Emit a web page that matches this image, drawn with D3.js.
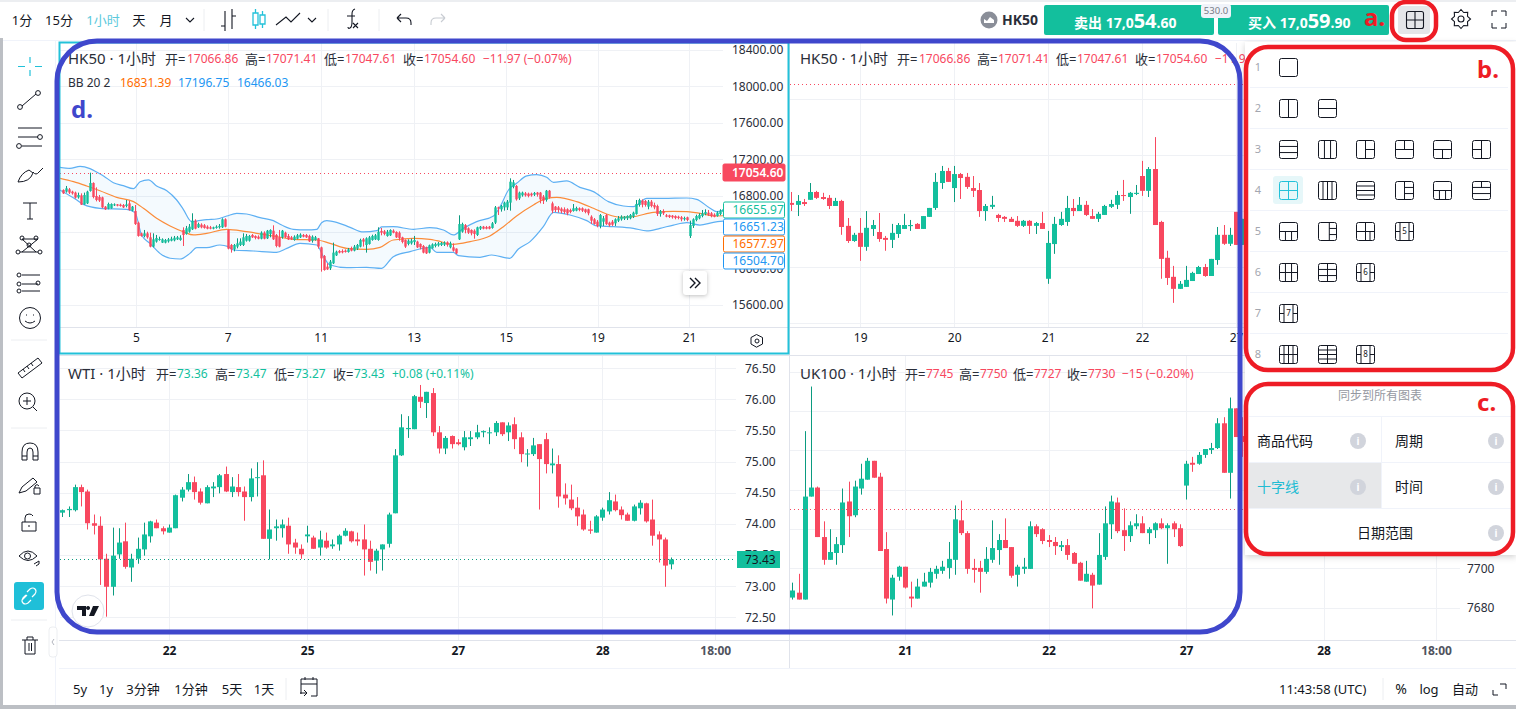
<!DOCTYPE html>
<html>
<head>
<meta charset="utf-8">
<script src="https://cdn.jsdelivr.net/npm/d3@7"></script>
<style>
  html, body { margin: 0; padding: 0; background: #fff; overflow: hidden; }
  text { font-family: "Noto Sans", "Noto Sans CJK SC", sans-serif; }
</style>
</head>
<body>
<div id="chart"></div>
<script>
// each candle is [open, high, low, close]
const hkHourly = [
[16863,16870,16819,16826],[16845,16907,16834,16881],[16870,16885,16819,16834],[16845,16855,16812,16826],[16834,16845,16768,16779],[16782,16834,16768,16808],[16804,16826,16698,16702],[16705,16834,16702,16808],[16716,16855,16709,16845],[16852,17053,16845,16940],
[16940,16947,16771,16786],[16797,16892,16738,16753],[16786,16808,16731,16746],[16782,16790,16662,16672],[16680,16687,16643,16651],[16658,16724,16651,16709],[16662,16716,16658,16709],[16694,16716,16687,16705],[16705,16709,16683,16691],[16702,16713,16680,16687],
[16698,16709,16665,16672],[16687,16753,16672,16705],[16716,16746,16636,16643],[16636,16687,16629,16680],[16632,16698,16479,16489],[16504,16515,16350,16358],[16387,16394,16350,16358],[16358,16424,16343,16387],[16387,16405,16328,16343],[16343,16394,16233,16241],
[16241,16387,16233,16321],[16296,16369,16285,16336],[16314,16350,16306,16325],[16285,16332,16281,16321],[16285,16325,16277,16314],[16299,16336,16285,16321],[16306,16350,16299,16328],[16310,16358,16299,16339],[16321,16358,16314,16343],[16314,16365,16306,16339],
[16424,16453,16248,16369],[16380,16468,16372,16442],[16405,16489,16394,16460],[16431,16607,16424,16526],[16526,16541,16431,16438],[16453,16504,16446,16489],[16482,16497,16442,16453],[16475,16489,16438,16446],[16460,16475,16431,16438],[16453,16468,16431,16438],
[16438,16460,16431,16453],[16446,16475,16438,16460],[16453,16489,16438,16468],[16453,16552,16446,16541],[16541,16552,16453,16460],[16424,16431,16211,16219],[16259,16270,16175,16211],[16211,16270,16189,16259],[16241,16332,16222,16277],[16259,16332,16248,16296],
[16259,16387,16248,16343],[16306,16380,16296,16358],[16306,16369,16296,16358],[16369,16380,16336,16343],[16358,16365,16321,16336],[16350,16365,16321,16328],[16328,16409,16321,16394],[16394,16409,16321,16328],[16332,16424,16325,16416],[16380,16431,16343,16424],
[16416,16475,16314,16321],[16369,16380,16233,16248],[16343,16424,16233,16241],[16343,16424,16328,16416],[16394,16405,16336,16343],[16358,16380,16314,16321],[16343,16358,16314,16321],[16314,16365,16306,16350],[16328,16380,16321,16365],[16343,16387,16336,16372],
[16369,16380,16343,16350],[16369,16380,16336,16343],[16358,16372,16292,16299],[16306,16365,16285,16350],[16314,16358,16306,16343],[16332,16336,16219,16241],[16233,16241,15966,16112],[16138,16149,15977,15984],[16021,16058,15984,15992],[16003,16094,15984,16076],
[16058,16285,16050,16175],[16145,16197,16138,16186],[16193,16204,16167,16175],[16193,16211,16167,16178],[16197,16211,16175,16182],[16182,16226,16175,16211],[16222,16241,16189,16197],[16197,16259,16189,16241],[16219,16270,16204,16259],[16241,16328,16233,16314],
[16321,16336,16241,16296],[16259,16343,16175,16332],[16270,16358,16263,16343],[16314,16372,16306,16358],[16321,16380,16314,16365],[16314,16453,16306,16405],[16413,16446,16365,16394],[16409,16424,16365,16380],[16358,16424,16350,16405],[16365,16431,16358,16424],
[16416,16431,16387,16394],[16402,16409,16336,16343],[16394,16409,16306,16336],[16343,16350,16277,16292],[16314,16321,16226,16241],[16270,16321,16255,16306],[16277,16328,16263,16306],[16292,16358,16259,16314],[16296,16306,16226,16233],[16270,16277,16211,16233],
[16248,16259,16167,16175],[16233,16241,16160,16167],[16175,16263,16167,16255],[16222,16277,16219,16266],[16248,16285,16233,16270],[16255,16292,16241,16277],[16259,16292,16248,16281],[16263,16299,16248,16285],[16288,16299,16241,16259],[16233,16296,16222,16277],
[16233,16277,16186,16197],[16219,16222,16160,16167],[16321,16585,16314,16489],[16405,16504,16394,16489],[16478,16489,16387,16424],[16442,16453,16380,16394],[16424,16431,16365,16387],[16416,16431,16328,16380],[16369,16460,16358,16453],[16438,16468,16424,16460],
[16460,16468,16431,16438],[16456,16468,16431,16438],[16460,16468,16431,16438],[16446,16511,16438,16497],[16504,16687,16489,16672],[16672,16680,16588,16658],[16651,16698,16625,16687],[16672,16735,16636,16724],[16672,16753,16643,16735],[16724,16991,16636,16954],
[16899,16973,16881,16947],[16907,16918,16746,16760],[16771,16845,16753,16834],[16804,16845,16790,16834],[16826,16841,16790,16804],[16823,16834,16782,16797],[16823,16834,16790,16804],[16812,16841,16797,16830],[16834,16841,16790,16812],[16834,16841,16716,16760],
[16790,16808,16709,16746],[16753,16863,16735,16855],[16855,16863,16768,16782],[16716,16735,16607,16636],[16680,16687,16621,16643],[16672,16687,16614,16643],[16658,16672,16607,16629],[16651,16672,16599,16621],[16651,16662,16585,16607],[16643,16658,16607,16621],
[16632,16709,16625,16662],[16636,16680,16629,16665],[16662,16672,16629,16643],[16662,16672,16621,16636],[16651,16658,16607,16621],[16651,16658,16585,16607],[16570,16585,16489,16526],[16541,16555,16482,16489],[16515,16533,16453,16468],[16468,16599,16442,16588],
[16515,16577,16468,16552],[16588,16599,16479,16489],[16504,16515,16460,16475],[16515,16533,16468,16482],[16497,16552,16468,16541],[16526,16577,16511,16552],[16541,16585,16526,16570],[16548,16577,16533,16570],[16552,16585,16533,16577],[16552,16599,16541,16588],
[16570,16625,16555,16614],[16599,16753,16592,16709],[16698,16768,16680,16753],[16746,16760,16672,16702],[16742,16753,16680,16698],[16680,16753,16651,16735],[16735,16753,16672,16687],[16698,16724,16651,16672],[16687,16702,16577,16599],[16599,16643,16570,16629],
[16629,16651,16588,16607],[16585,16599,16563,16570],[16585,16592,16555,16566],[16581,16588,16548,16563],[16577,16585,16541,16555],[16570,16581,16541,16555],[16563,16577,16519,16541],[16541,16570,16526,16555],[16563,16570,16519,16533],[16358,16526,16336,16478],
[16468,16552,16446,16541],[16533,16592,16519,16577],[16552,16607,16541,16588],[16577,16643,16563,16607],[16599,16651,16585,16621],[16614,16643,16577,16592],[16607,16621,16563,16577],[16592,16607,16563,16570],[16577,16629,16570,16614],[16599,16651,16585,16636],
[16621,16665,16607,16651]
];

// bollinger bands as [candle index, value]
const bbUpper = [[-1,17112],[2.4,17101],[5.8,17123],[9.1,17097],[11.3,17060],[13.6,17017],[16.9,16943],[20.2,16910],[23.6,16877],[25.8,16954],[28.6,16973],[31.3,16907],[34.7,16855],[38,16753],[40.2,16651],[43,16515],[44.7,16522],[48,16537],[51.3,16544],[54.7,16577],[58,16607],[61.3,16599],[65.8,16559],[70.2,16526],[73,16478],[76.9,16431],[81.3,16424],[84.7,16431],[86.3,16504],[88,16526],[91.3,16508],[95.8,16453],[100.2,16402],[104.7,16416],[106.3,16457],[110.2,16460],[116.9,16431],[122.4,16449],[126.9,16424],[130.2,16369],[133.6,16442],[138,16515],[143.6,16577],[145.8,16680],[148.6,16863],[151.3,16936],[154.7,17017],[158,17031],[161.3,17002],[163.6,16947],[168,16962],[172.4,16892],[176.9,16845],[181.9,16735],[186.9,16687],[190.2,16680],[194.7,16771],[200.2,16771],[208,16775],[211.3,16760],[215.8,16662],[218,16625],[220.8,16651]];
const bbMiddle = [[-1,16991],[3.6,16954],[8,16907],[12.4,16855],[18,16782],[23.6,16735],[26.9,16662],[31.3,16552],[35.8,16468],[40.2,16405],[43.6,16369],[48,16387],[54.7,16431],[61.3,16405],[70.2,16358],[76.9,16321],[84.7,16314],[89.1,16277],[94.7,16222],[101.3,16211],[105.8,16233],[110.2,16314],[116.9,16332],[122.4,16321],[124.7,16306],[130.2,16266],[135.8,16296],[142.4,16358],[146.9,16460],[151.3,16577],[156.9,16698],[161.3,16771],[164.7,16782],[171.3,16735],[176.9,16662],[181.3,16599],[185.8,16563],[190.2,16570],[196.9,16618],[203.6,16629],[208,16625],[213.6,16599],[216.9,16577],[220.8,16581]];
const bbLower = [[-1,16863],[4.7,16753],[6.9,16705],[12.4,16662],[21.3,16651],[24.1,16614],[26.3,16369],[29.1,16277],[32.4,16167],[35.8,16113],[39.1,16105],[42.4,16167],[44.7,16230],[48,16230],[52.4,16259],[55.2,16241],[56.9,16204],[63.6,16193],[71.3,16178],[74.7,16222],[79.1,16277],[84.7,16259],[86.9,16131],[89.1,16039],[94.7,16010],[101.3,16014],[106.3,16003],[110.2,16131],[115.8,16186],[122.4,16233],[124.7,16178],[130.2,16178],[131.9,16142],[139.1,16124],[143,16149],[149,16113],[151.9,16215],[155.8,16296],[160.2,16460],[163.6,16618],[169.1,16588],[174.7,16526],[178,16468],[183.6,16460],[190.2,16442],[194.7,16413],[199.1,16442],[203.6,16478],[208,16504],[212.4,16478],[216.9,16508],[220.8,16522]];

const hkZoomed = [
[16630,16669,16601,16623],[16623,16658,16583,16637],[16633,16644,16619,16626],[16641,16701,16641,16669],[16669,16673,16644,16648],[16651,16666,16641,16644],[16648,16658,16608,16619],[16619,16648,16619,16637],[16637,16641,16516,16544],[16548,16576,16487,16494],
[16494,16523,16491,16516],[16523,16576,16423,16473],[16473,16601,16459,16541],[16537,16569,16512,16551],[16526,16594,16491,16501],[16505,16512,16459,16498],[16498,16555,16469,16523],[16519,16558,16505,16551],[16537,16591,16537,16551],[16547,16569,16530,16551],
[16555,16558,16537,16537],[16537,16583,16537,16583],[16580,16612,16580,16612],[16612,16737,16605,16705],[16701,16762,16680,16744],[16744,16755,16705,16705],[16683,16762,16633,16733],[16733,16737,16644,16719],[16723,16737,16680,16687],[16683,16726,16651,16673],
[16676,16701,16580,16601],[16601,16626,16566,16619],[16616,16655,16608,16623],[16587,16591,16562,16576],[16580,16583,16562,16573],[16573,16580,16562,16562],[16566,16583,16544,16548],[16548,16569,16544,16566],[16566,16569,16519,16548],[16548,16562,16519,16558],
[16558,16598,16537,16537],[16359,16530,16341,16487],[16483,16580,16448,16555],[16551,16598,16548,16573],[16562,16655,16548,16612],[16612,16644,16583,16601],[16601,16651,16601,16623],[16623,16637,16583,16587],[16583,16608,16573,16573],[16573,16598,16562,16591],
[16587,16623,16587,16619],[16616,16641,16612,16626],[16623,16673,16608,16658],[16658,16712,16637,16655],[16651,16669,16591,16666],[16662,16694,16658,16666],[16726,16780,16655,16673],[16673,16758,16651,16751],[16751,16865,16551,16551],[16562,16566,16359,16430],
[16434,16459,16337,16362],[16366,16405,16273,16323],[16323,16351,16323,16341],[16330,16405,16330,16355],[16351,16384,16351,16380],[16376,16405,16376,16401],[16401,16412,16366,16369],[16369,16430,16369,16430],[16426,16544,16409,16516],[16516,16551,16480,16484],
[16484,16541,16476,16516],[16598,16598,16480,16480],[16480,16573,16480,16573]
];

const wtiHourly = [
[74.18,74.23,74.11,74.22],[74.22,74.28,74.11,74.24],[74.22,74.63,74.20,74.59],[74.59,74.63,74.28,74.51],[74.52,74.55,73.91,74.01],[74.01,74.15,73.83,73.97],[73.97,74.12,73.02,73.43],[73.44,73.52,72.51,72.99],[72.99,73.94,72.85,73.49],[73.51,73.93,73.44,73.70],
[73.72,74.02,73.28,73.31],[73.30,73.52,73.07,73.44],[73.44,73.78,73.36,73.60],[73.59,74.02,73.49,73.83],[73.80,74.05,73.70,74.04],[74.02,74.07,73.93,73.93],[73.93,73.96,73.83,73.88],[73.86,73.99,73.86,73.94],[73.93,74.47,73.93,74.46],[74.42,74.59,74.36,74.55],
[74.55,74.80,74.52,74.67],[74.67,74.76,74.39,74.51],[74.52,74.57,74.31,74.34],[74.33,74.62,74.33,74.59],[74.57,74.67,74.43,74.60],[74.59,74.80,74.49,74.78],[74.80,74.92,74.51,74.52],[74.51,74.75,74.43,74.60],[74.59,74.80,74.44,74.51],[74.52,74.60,74.05,74.43],
[74.43,74.89,74.36,74.73],[74.74,74.99,74.44,74.75],[74.78,75.02,73.76,73.76],[73.76,74.23,73.43,73.91],[73.93,74.07,73.73,73.96],[73.93,74.07,73.78,73.99],[73.97,74.10,73.52,73.67],[73.70,73.76,73.52,73.62],[73.60,73.67,73.44,73.51],[73.80,73.97,73.70,73.83],
[73.78,73.81,73.60,73.60],[73.62,73.89,73.49,73.75],[73.73,73.86,73.60,73.62],[73.64,73.75,73.60,73.67],[73.67,73.83,73.57,73.81],[73.81,73.93,73.80,73.89],[73.88,73.89,73.70,73.72],[73.75,73.86,73.65,73.72],[73.75,73.99,73.17,73.59],[73.60,73.73,73.25,73.39],
[73.41,73.60,73.20,73.57],[73.59,73.67,73.25,73.67],[73.68,74.18,73.62,74.15],[74.17,75.20,74.17,75.10],[75.10,75.76,75.09,75.55],[75.52,75.73,75.38,75.54],[75.52,76.07,75.52,76.05],[76.04,76.23,75.86,75.96],[75.94,76.12,75.70,76.12],[76.10,76.18,75.41,75.47],
[75.47,75.57,75.13,75.21],[75.21,75.41,75.12,75.38],[75.41,75.42,75.21,75.28],[75.31,75.36,75.26,75.28],[75.23,75.49,75.18,75.39],[75.36,75.49,75.25,75.39],[75.39,75.59,75.36,75.47],[75.47,75.50,75.39,75.49],[75.46,75.55,75.28,75.47],[75.47,75.65,75.41,75.62],
[75.63,75.63,75.41,75.44],[75.47,75.63,75.33,75.58],[75.60,75.71,75.20,75.36],[75.39,75.47,74.99,75.12],[75.12,75.20,74.92,75.13],[75.12,75.38,75.09,75.26],[75.28,75.28,74.23,75.04],[75.36,75.46,74.81,74.96],[74.94,75.21,74.81,74.97],[74.96,75.10,74.26,74.44],
[74.47,74.65,74.31,74.41],[74.39,74.63,74.22,74.25],[74.26,74.43,73.97,74.12],[74.15,74.23,73.89,73.91],[73.91,74.05,73.84,73.89],[73.86,74.14,73.86,74.12],[74.10,74.26,74.05,74.23],[74.20,74.51,74.15,74.38],[74.36,74.47,74.20,74.22],[74.23,74.28,74.07,74.14],
[74.15,74.18,74.05,74.05],[74.05,74.31,74.04,74.28],[74.25,74.38,74.15,74.34],[74.33,74.34,74.02,74.04],[74.07,74.39,73.65,73.81],[73.83,73.88,73.38,73.75],[73.75,73.78,72.99,73.33],[73.35,73.46,73.27,73.43]
];

const ukHourly = [
[7685.1,7692.7,7684.1,7688.7],[7687.6,7697.2,7684.1,7684.1],[7684.1,7769.8,7684.1,7736.5],[7736.5,7792.5,7736.5,7741.1],[7741.1,7741.6,7715.9,7715.9],[7715.9,7723.9,7701.8,7704.3],[7704.3,7719.9,7704.3,7708.3],[7707.8,7715.9,7701.8,7712.3],[7711.8,7740.6,7707.8,7733.5],[7734,7744.1,7715.9,7726.5],
[7727,7744.6,7726,7741.6],[7740.6,7753.2,7737.5,7745.6],[7745.1,7756.2,7745.1,7754.7],[7754.7,7754.7,7746.1,7746.1],[7746.6,7748.6,7708.8,7708.8],[7709.8,7718.4,7682.1,7684.6],[7684.1,7696.7,7676,7695.2],[7695.7,7701.3,7693.7,7700.8],[7700.8,7700.8,7689.7,7690.2],[7685.6,7693.2,7680.1,7684.6],
[7684.6,7694.7,7684.6,7690.7],[7690.7,7697.7,7690.7,7693.2],[7692.7,7700.2,7690.2,7698.2],[7697.2,7701.3,7694.7,7699.7],[7698.7,7703.8,7697.2,7700.8],[7700.2,7713.4,7694.7,7704.8],[7704.3,7732,7696.7,7724.9],[7724.4,7734.5,7716.9,7717.9],[7717.9,7718.9,7697.2,7699.7],[7700.2,7704.8,7692.7,7699.2],
[7700.2,7703.8,7687.6,7698.2],[7698.2,7710.8,7697.2,7704.8],[7704.3,7724.4,7702.8,7710.3],[7709.3,7717.4,7701.8,7714.4],[7714.4,7725.4,7710.3,7710.3],[7710.8,7710.8,7695.2,7696.2],[7696.7,7701.8,7690.7,7700.8],[7699.7,7705.3,7697.2,7700.8],[7699.7,7723.9,7699.7,7721.4],[7721.4,7722.4,7715.9,7717.4],
[7719.9,7720.4,7712.3,7713.9],[7714.4,7716.9,7710.8,7713.4],[7713.4,7715.9,7706.8,7711.3],[7710.8,7713.9,7708.8,7711.8],[7711.8,7714.9,7704.3,7706.8],[7707.8,7708.3,7702.3,7702.3],[7702.8,7703.3,7693.7,7693.7],[7693.2,7703.8,7693.2,7697.2],[7696.7,7697.7,7679.6,7691.2],[7691.7,7717.9,7691.7,7706.8],
[7705.8,7731.5,7704.3,7722.9],[7722.4,7737,7714.9,7734],[7733.5,7736,7717.9,7718.9],[7719.4,7730.5,7708.8,7716.4],[7716.4,7723.9,7713.4,7721.9],[7721.4,7727.5,7719.9,7722.9],[7722.9,7726.5,7717.9,7717.9],[7717.9,7720.9,7712.3,7719.9],[7719.4,7723.4,7715.4,7722.9],[7722.9,7725.4,7719.9,7720.4],
[7720.4,7722.9,7702.3,7721.9],[7722.9,7723.9,7715.9,7719.9],[7720.4,7722.4,7710.8,7711.3],[7742.1,7754.7,7735,7753.2],[7753.7,7756.7,7749.1,7752.7],[7753.2,7759.2,7752.7,7757.7],[7757.7,7760.7,7756.2,7760.7],[7760.2,7763.8,7758.2,7761.2],[7761.2,7776.4,7760.7,7773.8],[7773.8,7776.9,7748.6,7748.6],
[7748.6,7786.9,7735.5,7781.4],[7781.4,7781.4,7766.8,7766.8],[7767.3,7776.9,7756.7,7764.3]
];

const hkPriceTicks = [18400,18000,17600,17200,16800,16400,16000,15600];
const hkPriceLabels = [18400,18000,17600,17200,16800,16000,15600];
const hkDayTicks = [24.4,55,86,117,147.7,178.3,208.8];
const hkDayLabels = ["5","7","11","13","15","19","21"];
const hkZoomPriceTicks = [17000,16800,16600,16400,16200];
const hkZoomDayTicks = [11,26,41,56,71];
const hkZoomDayLabels = ["19","20","21","22","27"];
const wtiPriceTicks = [76.5,76,75.5,75,74.5,74,73.5,73,72.5];
const wtiDayTicks = [17,39,63,86,104];
const wtiDayLabels = ["22","25","27","28","18:00"];
const ukPriceTicks = [7800,7780,7760,7740,7720,7700,7680];
const ukPriceLabels = [7700,7680];
const ukDayTicks = [18,41,63,85,103];
const ukDayLabels = ["21","22","27","28","18:00"];

const UP = "#13bf9d", UP_WICK = "#0b9b80", DOWN = "#f8485f";
const INK = "#131722", GRID = "#eff1f5", CYAN = "#22c1d9", RED = "#ee1c25", BLUE = "#3f47cc";

const svg = d3.select("#chart").append("svg").attr("width", 1516).attr("height", 709).style("display", "block");
const defs = svg.append("defs");
svg.append("rect").attr("width", 1516).attr("height", 709).attr("fill", "#fff");

function txt(parent, s, x, y, size, fill, opts) {
  opts = opts || {};
  return parent.append("text").attr("x", x).attr("y", y).attr("dy", "0.35em")
    .attr("font-size", size).attr("fill", fill)
    .attr("text-anchor", opts.anchor || "start")
    .attr("font-weight", opts.weight || 400).text(s);
}

function drawPane(p) {
  const id = "clip" + p.name;
  defs.append("clipPath").attr("id", id).append("rect")
    .attr("x", p.left).attr("y", p.top).attr("width", p.right - p.left).attr("height", p.bottom - p.top);
  const g = svg.append("g");
  const x = d3.scaleLinear().domain(p.xDomain).range(p.xRange);
  const y = d3.scaleLinear().domain(p.yDomain).range(p.yRange);

  g.selectAll(".hg").data(p.priceTicks).enter().append("line")
    .attr("x1", p.left).attr("x2", p.gridRight).attr("y1", d => Math.round(y(d)) + 0.5).attr("y2", d => Math.round(y(d)) + 0.5)
    .attr("stroke", GRID);
  g.selectAll(".vg").data(p.dayTicks).enter().append("line")
    .attr("x1", d => Math.round(x(d)) + 0.5).attr("x2", d => Math.round(x(d)) + 0.5).attr("y1", p.top).attr("y2", p.bottom)
    .attr("stroke", GRID);

  const body = g.append("g").attr("clip-path", "url(#" + id + ")");
  if (p.bands) p.bands(body, x, y);

  const c = body.selectAll(".c").data(p.candles).enter().append("g");
  c.append("line")
    .attr("x1", (d, i) => Math.round(x(i)) + 0.5).attr("x2", (d, i) => Math.round(x(i)) + 0.5)
    .attr("y1", d => y(d[1])).attr("y2", d => y(d[2]))
    .attr("stroke", d => d[3] >= d[0] ? UP_WICK : DOWN);
  c.append("rect")
    .attr("x", (d, i) => Math.round(x(i)) + 0.5 - p.barW / 2).attr("width", p.barW)
    .attr("y", d => y(Math.max(d[0], d[3])))
    .attr("height", d => Math.max(1, Math.abs(y(d[0]) - y(d[3]))))
    .attr("fill", d => d[3] >= d[0] ? UP : DOWN);

  g.append("line").attr("x1", p.left).attr("x2", p.lastRight)
    .attr("y1", Math.round(y(p.last)) + 0.5).attr("y2", Math.round(y(p.last)) + 0.5)
    .attr("stroke", p.lastColor).attr("stroke-dasharray", "1 3");

  if (p.priceX) {
    const ax = g.append("g").attr("transform", "translate(" + p.priceX + ",0)")
      .call(d3.axisRight(y).tickValues(p.priceLabels || p.priceTicks).tickFormat(p.priceFmt).tickSize(0).tickPadding(0));
    ax.select(".domain").remove();
    ax.selectAll("text").attr("font-size", 12).attr("fill", "#2a2e39").attr("font-family", null);
  }
  const ax2 = g.append("g").attr("transform", "translate(0," + p.axisY + ")")
    .call(d3.axisBottom(x).tickValues(p.dayTicks).tickFormat((d, i) => p.dayLabels[i]).tickSize(0).tickPadding(6));
  ax2.select(".domain").remove();
  ax2.selectAll("text").attr("font-size", 12).attr("font-family", null).attr("font-weight", p.boldDays ? 700 : 400)
    .attr("fill", d => (p.dayLabels[p.dayTicks.indexOf(d)] === "18:00" ? "#50535e" : "#131722"));
  return { g, x, y };
}

// ---- panes
drawPane({
  name: "hk", left: 60, right: 723, top: 43, bottom: 327, gridRight: 723, lastRight: 723, axisY: 327,
  xDomain: [0, 220], xRange: [62.7, 722.7], yDomain: [18400, 15600], yRange: [50, 305],
  candles: hkHourly, barW: 2.4, priceTicks: hkPriceTicks, priceLabels: hkPriceLabels, priceFmt: d3.format(".2f"), priceX: 732,
  dayTicks: hkDayTicks, dayLabels: hkDayLabels, last: 17054.6, lastColor: DOWN,
  bands: (b, x, y) => {
    const line = d3.line().x(d => x(d[0])).y(d => y(d[1])).curve(d3.curveMonotoneX);
    b.append("path").attr("d", line(bbUpper) + "L" + line(bbLower.slice().reverse()).slice(1) + "Z").attr("fill", "#2196f3").attr("opacity", 0.05);
    b.append("path").attr("d", line(bbUpper)).attr("fill", "none").attr("stroke", "#5eb0f3").attr("stroke-width", 1.2);
    b.append("path").attr("d", line(bbLower)).attr("fill", "none").attr("stroke", "#5eb0f3").attr("stroke-width", 1.2);
    b.append("path").attr("d", line(bbMiddle)).attr("fill", "none").attr("stroke", "#fb8c3a").attr("stroke-width", 1.2);
  }
});
drawPane({
  name: "hkz", left: 790, right: 1516, top: 43, bottom: 327, gridRight: 1516, lastRight: 1516, axisY: 327,
  xDomain: [0, 72], xRange: [791.3, 1242.3], yDomain: [17000, 16200], yRange: [99.3, 323.3],
  candles: hkZoomed, barW: 5, priceTicks: hkZoomPriceTicks, dayTicks: hkZoomDayTicks, dayLabels: hkZoomDayLabels,
  last: 17054.6, lastColor: DOWN
});
drawPane({
  name: "wti", left: 60, right: 736, top: 356, bottom: 640, gridRight: 736, lastRight: 736, axisY: 640, boldDays: true,
  xDomain: [0, 97], xRange: [62.3, 671.3], yDomain: [76, 72.5], yRange: [399.3, 617.3],
  candles: wtiHourly, barW: 5, priceTicks: wtiPriceTicks, priceFmt: d3.format(".2f"), priceX: 745,
  dayTicks: wtiDayTicks, dayLabels: wtiDayLabels, last: 73.43, lastColor: UP_WICK
});
drawPane({
  name: "uk", left: 790, right: 1460, top: 356, bottom: 640, gridRight: 1460, lastRight: 1460, axisY: 640, boldDays: true,
  xDomain: [0, 72], xRange: [792.3, 1242.3], yDomain: [7700, 7680], yRange: [568.3, 607.6],
  candles: ukHourly, barW: 5, priceTicks: ukPriceTicks, priceLabels: ukPriceLabels, priceFmt: d3.format("d"), priceX: 1467,
  dayTicks: ukDayTicks, dayLabels: ukDayLabels, last: 7730, lastColor: DOWN
});

// pane separators and frame lines
const frame = svg.append("g").attr("stroke", "#e0e3eb").attr("fill", "none");
frame.append("line").attr("x1", 59).attr("x2", 1516).attr("y1", 640.5).attr("y2", 640.5);
frame.append("line").attr("x1", 59).attr("x2", 1516).attr("y1", 327.5).attr("y2", 327.5);
frame.append("line").attr("x1", 59).attr("x2", 1516).attr("y1", 355.5).attr("y2", 355.5);
frame.append("line").attr("x1", 789.5).attr("x2", 789.5).attr("y1", 42).attr("y2", 668);
frame.append("line").attr("x1", 59).attr("x2", 1516).attr("y1", 668.5).attr("y2", 668.5).attr("stroke", "#f0f3fa");
frame.append("line").attr("x1", 0).attr("x2", 1516).attr("y1", 40.5).attr("y2", 40.5).attr("stroke", "#f0f3fa");
frame.append("line").attr("x1", 55.5).attr("x2", 55.5).attr("y1", 41).attr("y2", 705).attr("stroke", "#f0f3fa");

// selected pane outline
svg.append("rect").attr("x", 59.5).attr("y", 42.5).attr("width", 729).attr("height", 311)
  .attr("fill", "none").attr("stroke", CYAN).attr("stroke-width", 2);

// window edge
svg.append("rect").attr("x", 0).attr("y", 38).attr("width", 3).attr("height", 671).attr("fill", "#bcbfc4");
svg.append("rect").attr("x", 0).attr("y", 705).attr("width", 1516).attr("height", 4).attr("fill", "#bcbfc4");
svg.append("rect").attr("x", 0).attr("y", 0).attr("width", 1516).attr("height", 2).attr("fill", "#eceef1");

// ---- pane legends
function legend(items, y) {
  items.forEach(t => txt(svg, t[0], t[1], y, t[3] || 12, t[2]));
}
const hkRed = DOWN, dark = "#2a2e39";
legend([["HK50 · 1小时", 68, dark, 15], ["开=", 165, dark, 13], ["17066.86", 187, hkRed], ["高=", 245, dark, 13], ["17071.41", 266, hkRed],
  ["低=", 324, dark, 13], ["17047.61", 345, hkRed], ["收=", 403, dark, 13], ["17054.60", 424, hkRed], ["−11.97 (−0.07%)", 483, hkRed]], 59);
legend([["HK50 · 1小时", 800, dark, 15], ["开=", 897, dark, 13], ["17066.86", 919, hkRed], ["高=", 977, dark, 13], ["17071.41", 998, hkRed],
  ["低=", 1056, dark, 13], ["17047.61", 1077, hkRed], ["收=", 1135, dark, 13], ["17054.60", 1156, hkRed], ["−11.97 (−0.07%)", 1215, hkRed]], 59);
legend([["BB 20 2", 68, dark], ["16831.39", 120, "#ff6d00"], ["17196.75", 178, "#2196f3"], ["16466.03", 237, "#2196f3"]], 83);
legend([["WTI · 1小时", 68, dark, 15], ["开=", 156, dark, 13], ["73.36", 177, UP], ["高=", 215, dark, 13], ["73.47", 236, UP], ["低=", 274, dark, 13], ["73.27", 295, UP],
  ["收=", 333, dark, 13], ["73.43", 354, UP], ["+0.08 (+0.11%)", 392, UP]], 374);
legend([["UK100 · 1小时", 800, dark, 15], ["开=", 905, dark, 13], ["7745", 926, hkRed], ["高=", 959, dark, 13], ["7750", 980, hkRed], ["低=", 1013, dark, 13], ["7727", 1034, hkRed],
  ["收=", 1067, dark, 13], ["7730", 1088, hkRed], ["−15 (−0.20%)", 1122, hkRed]], 374);

// ---- price labels
function priceBox(s, x, y, w, h, fill, stroke, color) {
  svg.append("rect").attr("x", x).attr("y", y).attr("width", w).attr("height", h).attr("rx", 1.5)
    .attr("fill", fill).attr("stroke", stroke);
  txt(svg, s, x + 9, y + h / 2, 12, color, { weight: fill === "#fff" ? 400 : 600 });
}
priceBox("17054.60", 723, 164, 62, 17, DOWN, DOWN, "#fff");
priceBox("16655.97", 723.5, 202, 61, 16, "#fff", UP, UP);
priceBox("16651.23", 723.5, 219, 61, 16, "#fff", "#2196f3", "#2196f3");
priceBox("16577.97", 723.5, 236, 61, 16, "#fff", "#ff6d00", "#ff6d00");
priceBox("16504.70", 723.5, 253, 61, 16, "#fff", "#2196f3", "#2196f3");
svg.append("rect").attr("x", 737).attr("y", 551).attr("width", 43).attr("height", 17).attr("fill", UP);
txt(svg, "73.43", 745, 559.5, 12, "#131722");

// scroll-to-latest button
svg.append("rect").attr("x", 683).attr("y", 271).attr("width", 24).attr("height", 24).attr("rx", 3).attr("fill", "#fff")
  .style("filter", "drop-shadow(0 1px 2px rgba(0,0,0,.25))");
svg.append("path").attr("d", "M690 278l5 5l-5 5M695 278l5 5l-5 5").attr("fill", "none").attr("stroke", INK).attr("stroke-width", 1.4);

// pane settings hexagon
svg.append("path").attr("d", "M751 335.5l5.5 -3l6 3v6.5l-6 3.2l-5.5 -3.2z").attr("transform", "translate(0,2)")
  .attr("fill", "none").attr("stroke", INK);
svg.append("circle").attr("cx", 757).attr("cy", 341).attr("r", 2).attr("fill", "none").attr("stroke", INK);

// tradingview badge
svg.append("circle").attr("cx", 88).attr("cy", 611).attr("r", 16).attr("fill", "#fff").attr("stroke", "#e0e3eb");
svg.append("path").attr("d", "M77 606h9v10h-4v-6h-5zM88 606a2 2 0 1 0 0.1 0zM93 606h6l-5 10h-5z").attr("fill", "#131722");

// ---- top toolbar
const tf = [["1分", 22, INK], ["15分", 59, INK], ["1小时", 103, "#5cc9dc"], ["天", 139, INK], ["月", 166, INK]];
tf.forEach(t => txt(svg, t[0], t[1], 20, 13, t[2], { anchor: "middle" }));
const tool = svg.append("g").attr("fill", "none").attr("stroke", INK).attr("stroke-width", 1.1);
const chevron = x => `M${x - 4} 18l4 4l4 -4`;
tool.append("path").attr("d", chevron(190) + chevron(312));
tool.append("path").attr("d", "M225 11v20M221 26h4M232 9v20M232 16h4");
svg.append("path").attr("d", "M253 13h5v12h-5zM255.5 9v4M255.5 25v4M260 15h5v9h-5zM262.5 11v4M262.5 24v4")
  .attr("fill", "none").attr("stroke", CYAN).attr("stroke-width", 1.3);
tool.append("path").attr("d", "M276 25l10 -8l5 5l9 -9");
tool.append("path").attr("d", "M348 27q0 2 2 1q2 -1 2 -6v-8q0 -4 3 -5M347 16h8M353 23l5 5M358 23l-5 5");
tool.append("path").attr("d", "M397 18h9q5 0 5 5v2M397 18l4 -4M397 18l4 4");
tool.append("path").attr("d", "M445 18h-9q-5 0 -5 5v2M445 18l-4 -4M445 18l-4 4").attr("stroke", "#c8ccd2");
[204, 328, 379].forEach(x => svg.append("line").attr("x1", x).attr("x2", x).attr("y1", 9).attr("y2", 31).attr("stroke", "#eceef1"));

// ---- symbol and quote buttons
svg.append("circle").attr("cx", 989).attr("cy", 20).attr("r", 8.5).attr("fill", "#8a8e98");
svg.append("path").attr("d", "M984 23v-4l3 2l3 -4l4 3v3z").attr("fill", "#fff");
txt(svg, "HK50", 1002, 20, 14, "#2a2e39", { weight: 700 });
svg.append("rect").attr("x", 1044).attr("y", 5).attr("width", 170).attr("height", 30).attr("rx", 2).attr("fill", UP);
svg.append("rect").attr("x", 1218).attr("y", 5).attr("width", 171).attr("height", 30).attr("rx", 2).attr("fill", UP);
svg.append("rect").attr("x", 1201).attr("y", 4).attr("width", 30).attr("height", 14).attr("rx", 3).attr("fill", "#f0f3fa");
txt(svg, "530.0", 1216, 11, 9.5, "#787b86", { anchor: "middle" });
function quote(label, x, head, big, tail) {
  const t = svg.append("text").attr("x", x).attr("y", 28).attr("fill", "#fff").attr("font-weight", 700);
  t.append("tspan").attr("font-size", 14).text(label + " " + head);
  t.append("tspan").attr("font-size", 20).text(big);
  t.append("tspan").attr("font-size", 14).text(tail);
}
quote("卖出", 1074, "17,0", "54", ".60");
quote("买入", 1248, "17,0", "59", ".90");

// ---- right hand icons
svg.append("rect").attr("x", 1398).attr("y", 6).attr("width", 32).attr("height", 28).attr("rx", 3).attr("fill", "#e4e6e9");
const gridIcon = svg.append("g").attr("fill", "none").attr("stroke", INK).attr("stroke-width", 1.1);
gridIcon.append("rect").attr("x", 1406.5).attr("y", 11.5).attr("width", 17).attr("height", 17).attr("rx", 2);
gridIcon.append("path").attr("d", "M1415 11.5v17M1406.5 20h17");
const gear = svg.append("g").attr("fill", "none").attr("stroke", INK).attr("stroke-width", 1.1);
gear.append("circle").attr("cx", 1461).attr("cy", 19).attr("r", 3);
gear.append("path").attr("d", d3.range(0, 16).map(i => {
  const a = i / 16 * 2 * Math.PI, r = i % 2 ? 7 : 9.5;
  return (i ? "L" : "M") + (1461 + r * Math.cos(a)).toFixed(1) + " " + (19 + r * Math.sin(a)).toFixed(1);
}).join("") + "Z");
svg.append("path").attr("d", "M1492 16v-5h5M1501 11h5v5M1506 23v5h-5M1497 28h-5v-5").attr("fill", "none").attr("stroke", INK);

// ---- left drawing tools
const side = svg.append("g").attr("fill", "none").attr("stroke", INK).attr("stroke-width", 1);
svg.append("path").attr("d", "M30 57v6M30 70v6M18 66.5h7M35 66.5h7").attr("stroke", CYAN).attr("stroke-width", 1.2);
side.append("path").attr("d", "M22 106L36 94");
side.append("circle").attr("cx", 20).attr("cy", 107).attr("r", 2.4);
side.append("circle").attr("cx", 38).attr("cy", 93).attr("r", 2.4);
side.append("path").attr("d", "M18 128h24M18 137h20M22 146h20M18 137");
side.append("circle").attr("cx", 40).attr("cy", 137).attr("r", 2.4);
side.append("circle").attr("cx", 19).attr("cy", 146).attr("r", 2.4);
side.append("path").attr("d", "M18 182q3 -9 11 -12l4 3q-3 9 -15 9zM33 172q3 4 6 0l4 -4");
side.append("path").attr("d", "M23 203h14M30 203v16M27 219h6");
side.append("path").attr("d", "M22 239L38 239M22 239L36 252M38 239L22 252M20 252L38 252");
[[22, 238], [36, 238], [18, 252], [40, 252], [29, 245]].forEach(d => side.append("circle").attr("cx", d[0]).attr("cy", d[1]).attr("r", 2));
side.append("path").attr("d", "M22 275h18M22 284h16M22 291h18");
[[19, 275], [19, 284], [19, 291], [38, 283]].forEach(d => side.append("circle").attr("cx", d[0]).attr("cy", d[1]).attr("r", 2));
side.append("circle").attr("cx", 30).attr("cy", 318).attr("r", 10.5);
side.append("path").attr("d", "M25 321q5 4 10 0M26 315h1M33 315h1");
[340, 428, 620].forEach(y => svg.append("line").attr("x1", 11).attr("x2", 47).attr("y1", y).attr("y2", y).attr("stroke", "#eceef1"));
side.append("path").attr("d", "M18 373L38 358l4 5L22 378zM23 369l2 3M27 366l2 3M31 363l2 3");
side.append("circle").attr("cx", 27).attr("cy", 401).attr("r", 8);
side.append("path").attr("d", "M33 407l4 4M23 401h8M27 397v8");
side.append("path").attr("d", "M22 460v-8q0 -9 8 -9t8 9v8h-5v-8q0 -4 -3 -4t-3 4v8zM22 456h5M33 456h5");
side.append("path").attr("d", "M19 493l3 -6l11 -9l4 4l-11 9zM34 488h6v6h-6zM35 488v-2q2 -3 4 0");
side.append("path").attr("d", "M22 522h14v9h-14zM25 522v-4q0 -4 4 -4q3 0 4 2M29 525v2");
side.append("path").attr("d", "M19 556q9 -10 18 0q-9 9 -18 0M28 555.5h0.1M34 564l5 -3v3l-3 2");
side.append("circle").attr("cx", 27.5).attr("cy", 556).attr("r", 3);
svg.append("rect").attr("x", 14).attr("y", 582).attr("width", 30).attr("height", 28).attr("rx", 3).attr("fill", "#1fbfd8");
svg.append("path").attr("d", "M22 600l5 -5M27 592l3 -3q3 -2 5 0t0 5l-3 3M31 600l-3 3q-3 2 -5 0t0 -5l3 -3").attr("fill", "none").attr("stroke", "#fff").attr("stroke-width", 1.2);
side.append("path").attr("d", "M22 640h16M25 640v14h10v-14M27 640v-3h6v3M29 643v8M31.500 643v8");
svg.append("rect").attr("x", 49).attr("y", 627).attr("width", 8).attr("height", 30).attr("rx", 3).attr("fill", "#fff").attr("stroke", "#eceef1");
svg.append("path").attr("d", "M54 639l-2 3l2 3").attr("fill", "none").attr("stroke", "#b2b5be");

// ---- bottom bar
[["5y", 80], ["1y", 106], ["3分钟", 143], ["1分钟", 191], ["5天", 232], ["1天", 264]].forEach(t => txt(svg, t[0], t[1], 689, 13, INK, { anchor: "middle" }));
svg.append("line").attr("x1", 286).attr("x2", 286).attr("y1", 678).attr("y2", 700).attr("stroke", "#eceef1");
svg.append("path").attr("d", "M301 694v-15h16v17h-6M301 684h16M305 677v3M313 677v3M300 693h7M304 690l3 3l-3 3").attr("fill", "none").attr("stroke", INK);
txt(svg, "11:43:58 (UTC)", 1279, 689, 13, INK);
svg.append("line").attr("x1", 1383).attr("x2", 1383).attr("y1", 678).attr("y2", 700).attr("stroke", "#eceef1");
txt(svg, "%", 1401, 689, 14, INK, { anchor: "middle" });
txt(svg, "log", 1429, 689, 13, INK, { anchor: "middle" });
txt(svg, "自动", 1465, 689, 13, INK, { anchor: "middle" });
svg.append("path").attr("d", "M1493 690v5h5M1500 684h6v5").attr("fill", "none").attr("stroke", INK);

// ---- layout popup
svg.append("rect").attr("x", 1245).attr("y", 42).attr("width", 271).attr("height", 513).attr("fill", "#fff")
  .style("filter", "drop-shadow(0 2px 3px rgba(0,0,0,.18))");

const rowY = [67, 108, 149, 190, 231, 272, 313, 354];
const colX = [1288, 1327, 1365, 1404, 1442, 1481];
const V = a => [a, 0, a, 1], H = a => [0, a, 1, a];
const sideTicks = [[0, .5, .25, .5], [.75, .5, 1, .5]];
const layoutRows = [
  [[]],
  [[V(.5)], [H(.5)]],
  [[H(.33), H(.67)], [V(.33), V(.67)], [V(.5), [.5, .5, 1, .5]], [H(.5), [.5, 0, .5, .5]], [H(.5), [.5, .5, .5, 1]], [V(.5), [0, .5, .5, .5]]],
  [[V(.5), H(.5)], [V(.25), V(.5), V(.75)], [H(.25), H(.5), H(.75)], [V(.5), [.5, .33, 1, .33], [.5, .67, 1, .67]], [H(.5), [.33, .5, .33, 1], [.67, .5, .67, 1]], [H(.33), H(.67), [.5, 0, .5, .33]]],
  [[H(.5), [.33, .5, .33, 1], [.67, .5, .67, 1]], [V(.6), [.6, .33, 1, .33], [.6, .67, 1, .67]], [V(.5), H(.5), [.75, .5, .75, 1]], [V(.25), V(.75), ...sideTicks]],
  [[V(.33), V(.67), H(.5)], [H(.33), H(.67), V(.5)], [V(.25), V(.75), ...sideTicks]],
  [[V(.25), V(.75), ...sideTicks]],
  [[V(.25), V(.5), V(.75), H(.5)], [H(.25), H(.5), H(.75), V(.5)], [V(.25), V(.75), ...sideTicks]]
];
layoutRows.forEach((row, r) => {
  txt(svg, String(r + 1), 1258, rowY[r], 11, "#a3a6af", { anchor: "middle" });
  if (r < 7) svg.append("line").attr("x1", 1250).attr("x2", 1508).attr("y1", rowY[r] + 20.5).attr("y2", rowY[r] + 20.5).attr("stroke", "#f0f3fa");
  row.forEach((lines, c) => {
    const active = r === 3 && c === 0;
    const gi = svg.append("g").attr("transform", `translate(${colX[c] - 9},${rowY[r] - 9})`);
    if (active) gi.append("rect").attr("x", -6).attr("y", -5).attr("width", 30).attr("height", 28).attr("rx", 3).attr("fill", "#e6f7f9");
    gi.append("rect").attr("x", 0.5).attr("y", 0.5).attr("width", 18).attr("height", 18).attr("rx", 2)
      .attr("fill", "none").attr("stroke", active ? CYAN : INK);
    gi.selectAll("line").data(lines).enter().append("line")
      .attr("x1", d => 0.5 + d[0] * 18).attr("y1", d => 0.5 + d[1] * 18).attr("x2", d => 0.5 + d[2] * 18).attr("y2", d => 0.5 + d[3] * 18)
      .attr("stroke", active ? CYAN : INK);
  });
});
[[5, 3, 4], [6, 2, 5], [7, 0, 6], [8, 2, 7]].forEach(d => {
  txt(svg, String(d[0]), colX[d[1]] + 0.5, rowY[d[2]] + 0.5, 8, INK, { anchor: "middle" });
});

// sync section
txt(svg, "同步到所有图表", 1380, 396, 12, "#9598a1", { anchor: "middle" });
svg.append("rect").attr("x", 1249).attr("y", 463).attr("width", 132).attr("height", 45).attr("fill", "#e7e8ea");
const sep = svg.append("g").attr("stroke", "#f0f3fa");
sep.append("line").attr("x1", 1249).attr("x2", 1513).attr("y1", 416.5).attr("y2", 416.5);
sep.append("line").attr("x1", 1249).attr("x2", 1513).attr("y1", 462.5).attr("y2", 462.5);
sep.append("line").attr("x1", 1249).attr("x2", 1513).attr("y1", 508.5).attr("y2", 508.5);
sep.append("line").attr("x1", 1381.5).attr("x2", 1381.5).attr("y1", 417).attr("y2", 508);
[["商品代码", 1257, 441, INK], ["周期", 1395, 441, INK], ["十字线", 1257, 487, "#22bcd3"], ["时间", 1395, 487, INK]].forEach(t => txt(svg, t[0], t[1], t[2], 14, t[3]));
txt(svg, "日期范围", 1385, 533, 14, INK, { anchor: "middle" });
[[1358, 441], [1496, 441], [1358, 487], [1496, 487], [1496, 533]].forEach(p => {
  svg.append("circle").attr("cx", p[0]).attr("cy", p[1]).attr("r", 8).attr("fill", "#d1d4dc");
  txt(svg, "i", p[0], p[1], 10, "#fff", { anchor: "middle", weight: 700 });
});

// ---- annotation rings
const rings = svg.append("g").attr("fill", "none");
rings.append("rect").attr("x", 57).attr("y", 41).attr("width", 1183).attr("height", 591).attr("rx", 40).attr("stroke", BLUE).attr("stroke-width", 5);
rings.append("rect").attr("x", 1246).attr("y", 47).attr("width", 267).attr("height", 323).attr("rx", 22).attr("stroke", RED).attr("stroke-width", 4.5);
rings.append("rect").attr("x", 1246).attr("y", 384).attr("width", 267).attr("height", 170).attr("rx", 22).attr("stroke", RED).attr("stroke-width", 4.5);
rings.append("rect").attr("x", 1392).attr("y", 2).attr("width", 44).attr("height", 38).attr("rx", 14).attr("stroke", RED).attr("stroke-width", 4.5);
txt(svg, "a.", 1364, 18, 24, RED, { weight: 700 });
txt(svg, "b.", 1477, 70, 24, RED, { weight: 700 });
txt(svg, "c.", 1477, 403, 24, RED, { weight: 700 });
txt(svg, "d.", 71, 110, 24, BLUE, { weight: 700 });
</script>
</body>
</html>
